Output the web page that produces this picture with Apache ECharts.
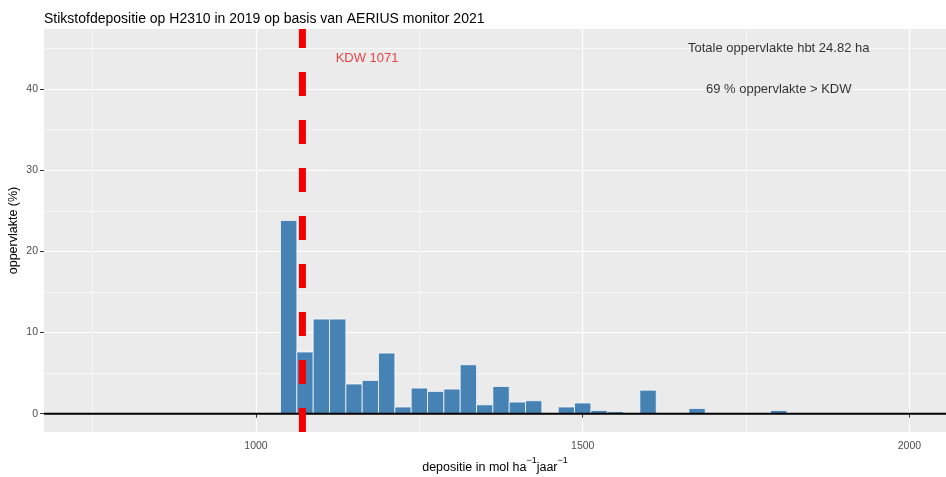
<!DOCTYPE html>
<html>
<head>
<meta charset="utf-8">
<script src="https://cdn.jsdelivr.net/npm/echarts@6/dist/echarts.min.js"></script>
<style>html,body{margin:0;padding:0;background:#fff}#c{width:946px;height:477px}</style>
</head>
<body>
<div id="c"></div>
<script>
// bin centres (mol/ha/jaar, binwidth 25) and area share (%)
const binCenters = [1050, 1075, 1100, 1125, 1150, 1175, 1200, 1225, 1250, 1275, 1300, 1325, 1350, 1375, 1400, 1425, 1475, 1500, 1525, 1550, 1600, 1675, 1800];
const areaPct    = [23.8, 7.6, 11.66, 11.66, 3.66, 4.1, 7.47, 0.83, 3.16, 2.75, 3.04, 6.03, 1.1, 3.36, 1.44, 1.6, 0.83, 1.32, 0.4, 0.25, 2.9, 0.65, 0.4];
const binWidth = 25;
const kdw = 1071;
const xTicks = [1000, 1500, 2000];
const xMinor = [750, 1250, 1750];
const yTicks = [0, 10, 20, 30, 40];
const yMinor = [5, 15, 25, 35, 45];
const annotations = [
  {x: 1170, y: 43.8, text: 'KDW 1071', color: '#E41A1C'},
  {x: 1800, y: 45, text: 'Totale oppervlakte hbt 24.82 ha', color: '#000000'},
  {x: 1800, y: 40, text: '69 % oppervlakte > KDW', color: '#000000'}
];
const X_MIN = 675.5, X_MAX = 2056, Y_MIN = -2.25, Y_MAX = 47.4;

const FONT = 'Liberation Sans, Arial, sans-serif';
const chart = echarts.init(document.getElementById('c'), null, {renderer: 'canvas'});
const barData = binCenters.map((c, i) => [c, areaPct[i]]);

const option = {
  animation: false,
  backgroundColor: '#ffffff',
  textStyle: {fontFamily: FONT},
  title: {
    text: 'Stikstofdepositie op H2310 in 2019 op basis van AERIUS monitor 2021',
    left: 44, top: 12, padding: 0,
    textStyle: {fontSize: 14, fontWeight: 'normal', color: '#000', fontFamily: FONT}
  },
  grid: {left: 44, right: 0, top: 29, bottom: 45, show: true, backgroundColor: '#EBEBEB', borderWidth: 0,
         containLabel: false, outerBoundsMode: 'none'},
  xAxis: {
    type: 'value', min: X_MIN, max: X_MAX,
    axisLine: {show: false},
    axisTick: {show: true, length: 4, customValues: xTicks, lineStyle: {color: '#333333', width: 1}},
    axisLabel: {customValues: xTicks, fontSize: 10.5, color: '#4D4D4D', margin: 9, fontFamily: FONT,
                formatter: v => String(v)},
    splitLine: {show: true, lineStyle: {color: '#ffffff', width: 1.2}},
    name: '{a|depositie in mol ha}{s|\u22121}{a|jaar}{s|\u22121}',
    nameLocation: 'middle', nameGap: 24, nameMoveOverlap: false,
    nameTextStyle: {
      rich: {
        a: {fontSize: 12.5, color: '#000', fontFamily: FONT, lineHeight: 18, verticalAlign: 'bottom'},
        s: {fontSize: 9, color: '#000', fontFamily: FONT, lineHeight: 18, verticalAlign: 'top'}
      }
    }
  },
  yAxis: {
    type: 'value', min: Y_MIN, max: Y_MAX,
    axisLine: {show: false},
    axisTick: {show: true, length: 4, customValues: yTicks, lineStyle: {color: '#333333', width: 1}},
    axisLabel: {customValues: yTicks, fontSize: 10.5, color: '#4D4D4D', margin: 6, fontFamily: FONT,
                formatter: v => String(v)},
    splitLine: {show: true, lineStyle: {color: '#ffffff', width: 1.2}},
    name: 'oppervlakte (%)', nameLocation: 'middle', nameGap: 24, nameMoveOverlap: false,
    nameTextStyle: {fontSize: 12.5, color: '#000', fontFamily: FONT}
  },
  series: [
    {
      // minor grid lines
      type: 'line', data: [], z: 1, zlevel: 0, silent: true,
      markLine: {
        silent: true, symbol: 'none', animation: false,
        label: {show: false},
        lineStyle: {color: '#ffffff', width: 0.6, type: 'solid'},
        data: xMinor.map(v => ({xAxis: v})).concat(yMinor.map(v => ({yAxis: v})))
      }
    },
    {
      type: 'custom', z: 3, zlevel: 1, silent: true,
      data: barData,
      renderItem: function (params, api) {
        const c = api.value(0), v = api.value(1);
        const p0 = api.coord([c - binWidth / 2, 0]);
        const p1 = api.coord([c + binWidth / 2, v]);
        return {
          type: 'rect',
          shape: {x: p0[0], y: p1[1], width: p1[0] - p0[0], height: p0[1] - p1[1]},
          style: {fill: '#4682B4', stroke: '#ffffff', lineWidth: 0.7}
        };
      }
    },
    {
      // y = 0 reference line and KDW dashed line
      type: 'custom', z: 6, zlevel: 2, silent: true, clip: true,
      data: [[0, 'h'], [kdw, 'v']],
      renderItem: function (params, api) {
        const kind = api.value(1) === 1 || params.dataIndex === 1 ? 'v' : 'h';
        if (kind === 'h') {
          const a = api.coord([X_MIN, api.value(0)]);
          const b = api.coord([X_MAX, api.value(0)]);
          return {type: 'line', shape: {x1: a[0], y1: a[1], x2: b[0], y2: b[1]},
                  style: {stroke: '#000000', lineWidth: 2}};
        }
        const a = api.coord([api.value(0), Y_MIN]);
        const b = api.coord([api.value(0), Y_MAX]);
        return {type: 'line', z2: 10, shape: {x1: a[0], y1: a[1], x2: b[0], y2: b[1]},
                style: {stroke: '#F50000', lineWidth: 7, lineDash: [24, 24], lineCap: 'butt'}};
      }
    },
    {
      type: 'scatter', z: 10, zlevel: 3, silent: true, symbolSize: 0,
      data: annotations.map(a => ({value: [a.x, a.y], label: {color: a.color}, name: a.text})),
      label: {
        show: true, position: 'inside', fontSize: 13, fontFamily: FONT,
        textBorderWidth: 0, textBorderColor: 'transparent',
        formatter: p => p.name
      }
    }
  ]
};
chart.setOption(option);
</script>
</body>
</html>
